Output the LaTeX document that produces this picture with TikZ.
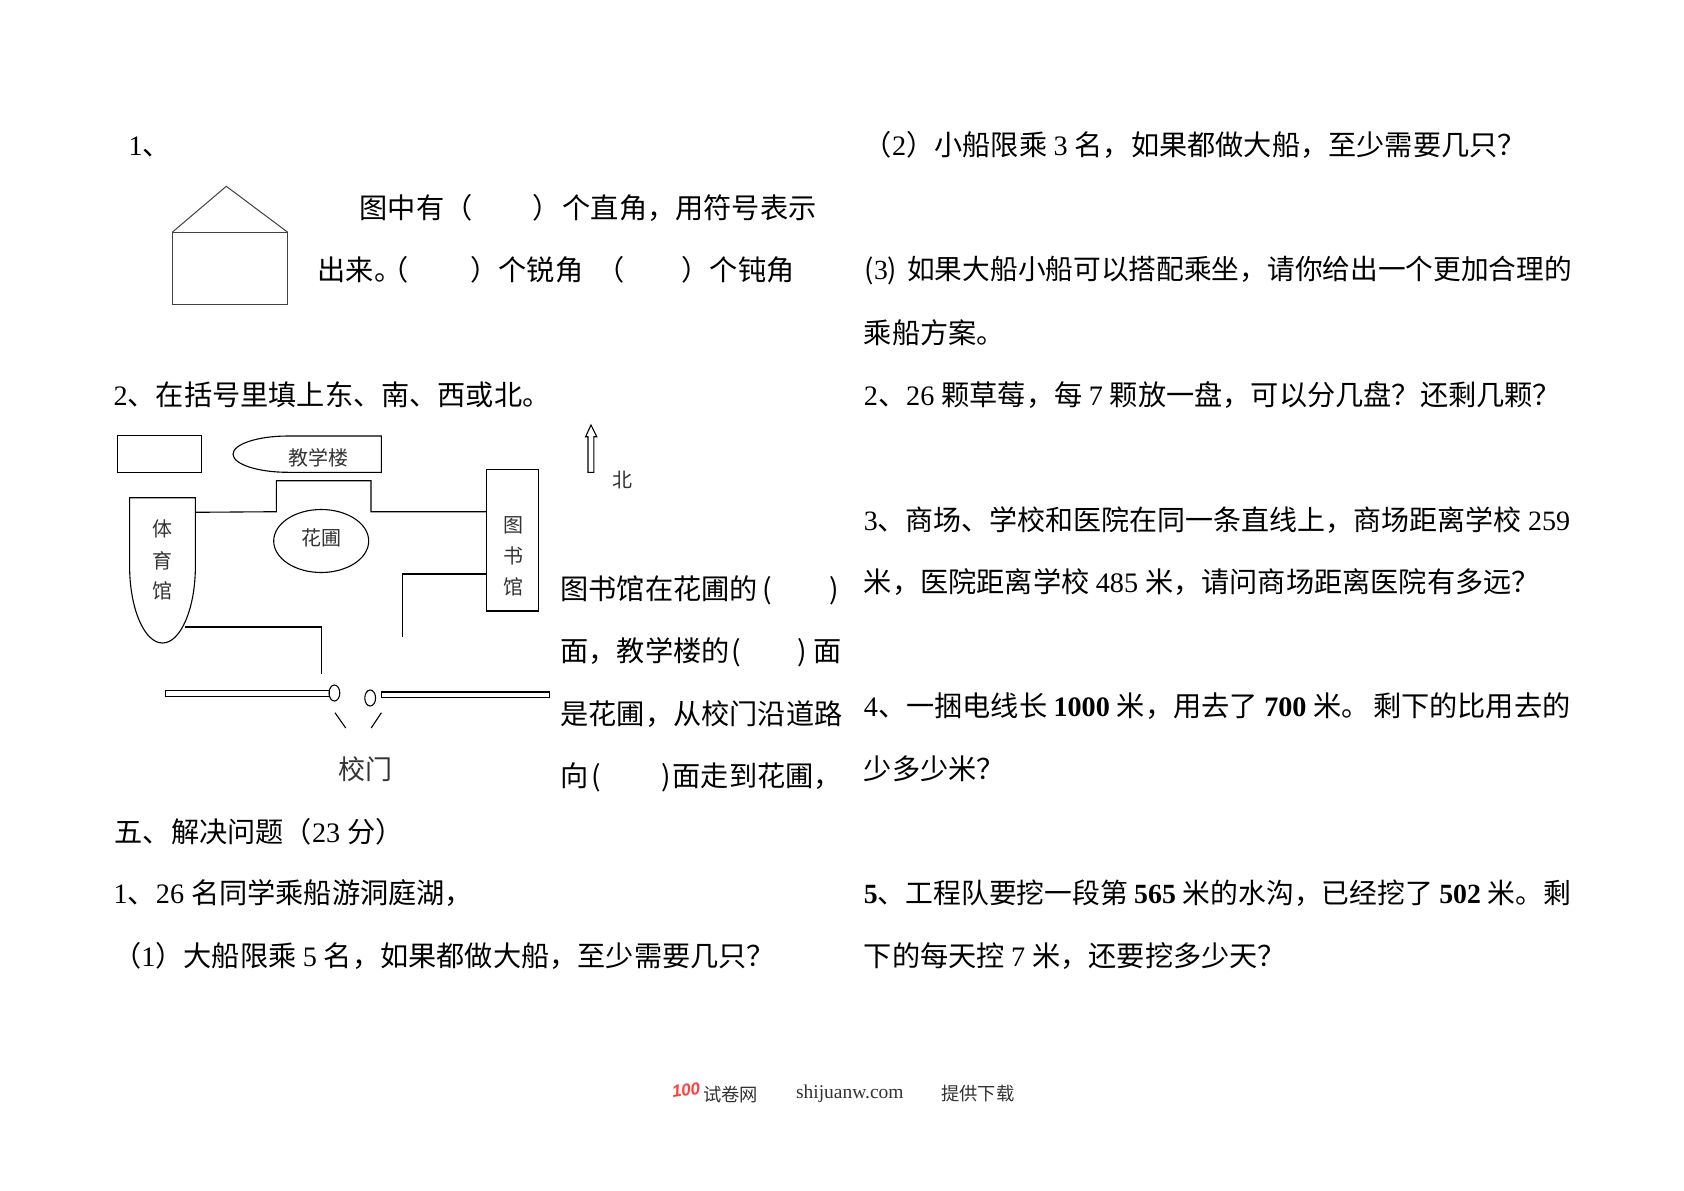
\documentclass[tikz,border=0pt]{standalone}
\usepackage{fontspec}
\setmainfont{Noto Sans CJK SC}
\newfontfamily\latfont{Liberation Serif}
\newfontfamily\logofont{Liberation Sans}
\newcommand{\lat}[1]{{\latfont #1}}
\newcommand{\latb}[1]{{\latfont\bfseries #1}}
\usetikzlibrary{arrows.meta,shapes.geometric}
\tikzset{
	linetext/.style={anchor=base west, inner sep=0pt, font=\fontsize{28.2}{34}\selectfont},
	labeltext/.style={inner sep=0pt, font=\fontsize{20}{24}\selectfont, text=black!80},
	foottext/.style={inner sep=0pt, text=black!80},
	plan/.style={draw=black, line width=1.1pt},
	bldg/.style={plan, inner sep=0pt},
}

\begin{document}
\begin{tikzpicture}[x=1pt, y=-1pt]
	\useasboundingbox (0,0) rectangle (1684,1191);
	
	% ----- LEFT: first question with the house
	\node[linetext] (qone) at (128.5,155.5) {\lat{1}、};
	\draw[line width=1pt, draw=black!75] (172.2,232.3) -- (226.3,186.3) -- (287.8,232.3);
	\node[bldg, minimum width=115.6pt, minimum height=72pt, draw=black!75] (house) at (230,268.3) {};
	\node[linetext] (qoneA) at (359.5,218) {图中有（\hspace{60pt}）\hspace{2pt}个直角，用符号表示};
	\node[linetext] (qoneB) at (317.5,280) {出来。\hspace{-22pt}（\hspace{62pt}）个锐角 \hspace{7pt}（\hspace{57pt}）个钝角};
	
	% ----- LEFT: the plan of the school
	\node[linetext] (qtwo) at (113.3,405) {\lat{2}、在括号里填上东、南、西或北。};
	
	% buildings
	\node[bldg, minimum width=84pt, minimum height=36.6pt] (block) at (159.6,454) {};
	\draw[plan] (381.4,436) -- (381.4,472.3) -- (288,472.3)
		arc[start angle=90, end angle=270, x radius=55, y radius=18.15] -- cycle;
	\node[labeltext] (jxl) at (318.2,458.3) {教学楼};
	\draw[plan] (129.6,497.7) -- (195.4,497.7) -- (195.4,566)
		arc[start angle=0, end angle=180, x radius=32.9, y radius=77] -- cycle;
	\node[labeltext] (tiA) at (162.8,529.3) {体};
	\node[labeltext] (tiB) at (162.8,560.7) {育};
	\node[labeltext] (tiC) at (162.8,590.7) {馆};
	\node[bldg, ellipse, minimum width=95pt, minimum height=63pt] (garden) at (321.2,541) {};
	\node[labeltext] (gardentext) at (321.7,538) {花圃};
	\node[bldg, minimum width=52pt, minimum height=141.3pt] (lib) at (512.2,540.3) {};
	\node[labeltext] (libA) at (513,525) {图};
	\node[labeltext] (libB) at (513,555.7) {书};
	\node[labeltext] (libC) at (513,587) {馆};
	
	% roads
	\draw[plan] (195.4,512.3) -- (276.4,511.7) -- (276.4,480.7) -- (371,480.7) -- (371,511.7) -- (486.2,511.7);
	\draw[plan] (486.2,574) -- (402.2,574) -- (402.2,636.7);
	\draw[plan] (185.4,627) -- (321.5,627) -- (321.5,674);
	
	% gate
	\draw[plan] (165.6,690.7) rectangle (329.5,696.3);
	\node[bldg, ellipse, minimum width=10.8pt, minimum height=16pt] (postA) at (334.4,693) {};
	\node[bldg, ellipse, minimum width=10.8pt, minimum height=16pt] (postB) at (370.2,698) {};
	\draw[plan] (381.4,692) rectangle (549.7,697.3);
	\draw[plan] (335,712.7) -- (345.7,728);
	\draw[plan] (381.4,712.7) -- (371.2,728);
	\node[labeltext, font=\fontsize{27}{32}\selectfont] (gate) at (365.9,769) {校门};
	
	% north arrow
	\draw[plan, fill=white] (588,472.3) -- (588,436.7) -- (585.6,436.7) -- (591,425)
		-- (596.8,436.7) -- (593.8,436.7) -- (593.8,472.3) -- cycle;
	\node[labeltext] (north) at (622.7,480) {北};
	
	% text beside the plan
	\node[linetext] (qtwoA) at (560.3,599.5) {图书馆在花圃的\hspace{5pt}(\hspace{57pt})};
	\node[linetext] (qtwoB) at (560.3,661) {面，教学楼的\hspace{2pt}(\hspace{56pt})\hspace{7pt}面};
	\node[linetext] (qtwoC) at (560.3,724.5) {是花圃，从校门沿道路};
	\node[linetext] (qtwoD) at (560.3,786) {向\hspace{3pt}(\hspace{60pt})\hspace{2pt}面走到花圃，};
	
	% ----- LEFT: section five
	\node[linetext] (five) at (114.4,842.3) {五、解决问题（\lat{23 }分）};
	\node[linetext] (fiveA) at (113.4,903.7) {\lat{1}、\lat{26 }名同学乘船游洞庭湖，};
	\node[linetext] (fiveB) at (113,966.5) {（\lat{1}）大船限乘 \lat{5 }名，如果都做大船，至少需要几只？};
	
	% ----- RIGHT: the remaining questions
	\node[linetext] (fiveC) at (863.7,155.5) {（\lat{2}）小船限乘 \lat{3 }名，如果都做大船，至少需要几只？};
	\node[linetext, font=\fontsize{27.7}{34}\selectfont] (fiveD) at (864.5,279) {(\lat{3})\hspace{10pt}如果大船小船可以搭配乘坐，请你给出一个更加合理的};
	\node[linetext] (fiveE) at (863.7,343.5) {乘船方案。};
	\node[linetext] (rtwo) at (863.7,405) {\lat{2}、\lat{26 }颗草莓，每 \lat{7 }颗放一盘，可以分几盘？还剩几颗？};
	\node[linetext, font=\fontsize{28}{34}\selectfont] (rthreeA) at (863.7,530.3) {\lat{3}、商场、学校和医院在同一条直线上，商场距离学校 \lat{259}};
	\node[linetext] (rthreeB) at (863.7,592.8) {米，医院距离学校 \lat{485 }米，请问商场距离医院有多远？};
	\node[linetext] (rfourA) at (863.7,716.8) {\lat{4}、一捆电线长 \latb{1000 }米，用去了 \latb{700 }米。\hspace{3pt}剩下的比用去的};
	\node[linetext] (rfourB) at (863.7,779.8) {少多少米？};
	\node[linetext, font=\fontsize{27.8}{34}\selectfont] (rfiveA) at (863.7,903.7) {\latb{5}、工程队要挖一段第 \latb{565 }米的水沟，已经挖了 \latb{502 }米。剩};
	\node[linetext] (rfiveB) at (863.7,966.5) {下的每天控 \lat{7 }米，还要挖多少天？};
	
	% ----- footer
	\node[inner sep=0pt, text=red!75, rotate=8, font=\logofont\bfseries\itshape\fontsize{17}{20}\selectfont] (logo) at (686,1090) {100};
	\node[foottext, anchor=west, font=\fontsize{18.3}{22}\selectfont] (footA) at (703,1094) {试卷网};
	\node[foottext, anchor=west, font=\latfont\fontsize{19.5}{23}\selectfont] (footB) at (795.8,1094) {shijuanw.com};
	\node[foottext, anchor=west, font=\fontsize{18.3}{22}\selectfont] (footC) at (941,1094) {提供下载};
	
\end{tikzpicture}
\end{document}
